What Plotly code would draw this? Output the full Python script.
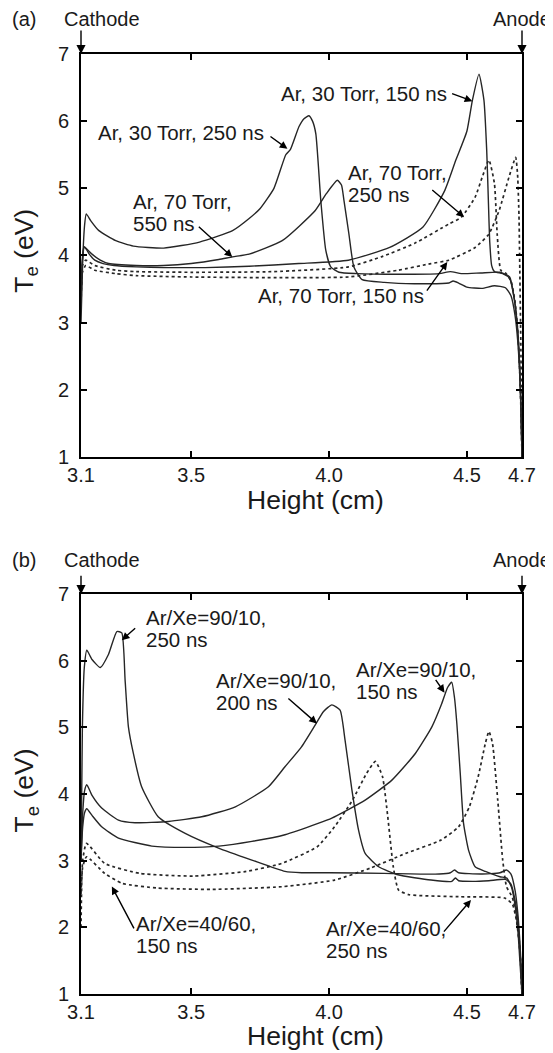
import plotly.graph_objects as go

# ---------------- Data: panel (a) ----------------
a_30_150_x = [3.100, 3.104, 3.110, 3.118, 3.130, 3.150, 3.180, 3.220, 3.300, 3.400, 3.550, 3.710, 3.890, 4.070, 4.220, 4.340, 4.420, 4.460, 4.500, 4.520, 4.544, 4.562, 4.572, 4.578, 4.583, 4.590, 4.600, 4.630, 4.655, 4.672, 4.684, 4.692, 4.697, 4.700]
a_30_150_y = [3.3, 3.9, 4.12, 4.10, 4.02, 3.93, 3.88, 3.85, 3.83, 3.82, 3.82, 3.84, 3.88, 3.93, 4.12, 4.42, 4.97, 5.42, 5.85, 6.31, 6.70, 6.31, 5.56, 4.82, 4.20, 3.85, 3.76, 3.73, 3.66, 3.35, 2.90, 2.30, 1.60, 1.00]

a_30_250_x = [3.100, 3.106, 3.113, 3.119, 3.135, 3.165, 3.226, 3.290, 3.400, 3.530, 3.650, 3.710, 3.750, 3.800, 3.843, 3.860, 3.891, 3.910, 3.927, 3.940, 3.952, 3.970, 3.988, 4.006, 4.036, 4.100, 4.250, 4.400, 4.440, 4.480, 4.550, 4.620, 4.655, 4.672, 4.684, 4.692, 4.697, 4.700]
a_30_250_y = [3.0, 3.9, 4.45, 4.62, 4.52, 4.37, 4.22, 4.14, 4.11, 4.20, 4.37, 4.55, 4.70, 5.00, 5.50, 5.58, 5.92, 6.04, 6.08, 6.00, 5.81, 4.82, 4.08, 3.83, 3.75, 3.73, 3.72, 3.73, 3.76, 3.73, 3.74, 3.75, 3.68, 3.36, 2.90, 2.30, 1.60, 1.00]

a_70_550_x = [3.100, 3.105, 3.112, 3.120, 3.140, 3.170, 3.200, 3.300, 3.400, 3.500, 3.600, 3.650, 3.710, 3.830, 3.950, 3.990, 4.030, 4.045, 4.054, 4.072, 4.090, 4.120, 4.200, 4.310, 4.435, 4.450, 4.470, 4.500, 4.555, 4.600, 4.640, 4.660, 4.675, 4.685, 4.692, 4.697, 4.700]
a_70_550_y = [3.3, 3.9, 4.13, 4.10, 4.02, 3.93, 3.88, 3.85, 3.85, 3.88, 3.94, 3.98, 4.02, 4.22, 4.67, 4.92, 5.12, 5.05, 4.82, 4.32, 3.83, 3.64, 3.60, 3.58, 3.59, 3.62, 3.59, 3.53, 3.51, 3.55, 3.52, 3.40, 3.10, 2.70, 2.20, 1.60, 1.00]

a_70_250_x = [3.100, 3.105, 3.117, 3.150, 3.226, 3.300, 3.500, 3.800, 4.070, 4.190, 4.310, 4.435, 4.480, 4.530, 4.556, 4.580, 4.600, 4.610, 4.623, 4.640, 4.660, 4.675, 4.685, 4.692, 4.697, 4.700]
a_70_250_y = [3.3, 3.85, 3.93, 3.85, 3.78, 3.76, 3.75, 3.76, 3.83, 3.98, 4.18, 4.47, 4.57, 4.87, 5.17, 5.42, 5.07, 4.32, 3.78, 3.74, 3.62, 3.30, 2.85, 2.25, 1.60, 1.00]

a_70_150_x = [3.100, 3.105, 3.117, 3.150, 3.226, 3.300, 3.500, 3.800, 4.070, 4.250, 4.370, 4.435, 4.530, 4.580, 4.617, 4.653, 4.677, 4.684, 4.689, 4.692, 4.696, 4.700]
a_70_150_y = [3.2, 3.75, 3.85, 3.78, 3.73, 3.70, 3.68, 3.67, 3.68, 3.78, 3.88, 3.93, 4.12, 4.32, 4.67, 5.17, 5.46, 5.20, 4.60, 3.80, 2.60, 1.00]

# ---------------- Data: panel (b) ----------------
b_90_250_x = [3.100, 3.105, 3.112, 3.121, 3.140, 3.170, 3.200, 3.230, 3.248, 3.260, 3.272, 3.290, 3.320, 3.380, 3.478, 3.599, 3.720, 3.840, 3.900, 4.000, 4.200, 4.400, 4.440, 4.455, 4.470, 4.550, 4.620, 4.645, 4.660, 4.675, 4.685, 4.692, 4.697, 4.700]
b_90_250_y = [3.0, 5.0, 5.9, 6.16, 6.02, 5.90, 6.10, 6.44, 6.42, 5.71, 5.01, 4.61, 4.11, 3.66, 3.41, 3.19, 3.01, 2.84, 2.82, 2.82, 2.81, 2.80, 2.82, 2.86, 2.82, 2.80, 2.82, 2.86, 2.80, 2.55, 2.20, 1.80, 1.40, 1.00]

b_90_200_x = [3.100, 3.106, 3.113, 3.121, 3.140, 3.175, 3.236, 3.296, 3.417, 3.538, 3.660, 3.780, 3.840, 3.900, 3.950, 3.980, 4.010, 4.040, 4.058, 4.083, 4.107, 4.131, 4.180, 4.250, 4.370, 4.445, 4.458, 4.470, 4.520, 4.580, 4.640, 4.660, 4.675, 4.685, 4.692, 4.697, 4.700]
b_90_200_y = [3.0, 3.7, 4.05, 4.14, 3.98, 3.79, 3.61, 3.57, 3.59, 3.66, 3.81, 4.11, 4.41, 4.71, 5.04, 5.24, 5.34, 5.26, 4.81, 4.06, 3.46, 3.11, 2.91, 2.79, 2.71, 2.69, 2.74, 2.70, 2.69, 2.70, 2.72, 2.65, 2.40, 2.10, 1.70, 1.35, 1.00]

b_90_150_x = [3.100, 3.106, 3.113, 3.121, 3.140, 3.175, 3.236, 3.357, 3.478, 3.600, 3.720, 3.840, 3.960, 4.010, 4.131, 4.228, 4.313, 4.373, 4.409, 4.430, 4.445, 4.455, 4.4636, 4.476, 4.488, 4.506, 4.530, 4.567, 4.620, 4.645, 4.662, 4.676, 4.686, 4.693, 4.700]
b_90_150_y = [3.0, 3.5, 3.72, 3.78, 3.68, 3.51, 3.34, 3.22, 3.20, 3.22, 3.29, 3.39, 3.56, 3.64, 3.91, 4.21, 4.61, 5.01, 5.36, 5.60, 5.68, 5.45, 5.06, 4.31, 3.56, 3.16, 2.91, 2.84, 2.76, 2.74, 2.60, 2.30, 1.90, 1.45, 1.00]

b_40_250_x = [3.100, 3.106, 3.120, 3.186, 3.314, 3.507, 3.700, 3.828, 3.957, 4.020, 4.085, 4.136, 4.168, 4.194, 4.213, 4.233, 4.252, 4.290, 4.470, 4.637, 4.665, 4.680, 4.690, 4.696, 4.700]
b_40_250_y = [2.0, 3.0, 3.26, 2.96, 2.81, 2.77, 2.84, 2.96, 3.21, 3.51, 3.91, 4.31, 4.49, 4.26, 3.66, 2.91, 2.56, 2.49, 2.46, 2.44, 2.35, 2.10, 1.75, 1.40, 1.00]

b_40_150_x = [3.100, 3.106, 3.120, 3.186, 3.250, 3.379, 3.571, 3.828, 4.020, 4.150, 4.278, 4.406, 4.470, 4.509, 4.541, 4.567, 4.580, 4.593, 4.612, 4.630, 4.644, 4.665, 4.680, 4.690, 4.696, 4.700]
b_40_150_y = [2.5, 2.9, 3.06, 2.81, 2.66, 2.59, 2.57, 2.61, 2.71, 2.89, 3.11, 3.31, 3.51, 3.81, 4.26, 4.76, 4.94, 4.76, 3.91, 3.01, 2.61, 2.45, 2.15, 1.80, 1.40, 1.00]

x_tickvals = [3.1, 3.5, 4.0, 4.5, 4.7]
x_ticktext = ["3.1", "3.5", "4.0", "4.5", "4.7"]
y_tickvals = [1, 2, 3, 4, 5, 6, 7]

FONT = "Liberation Sans, Arial, sans-serif"
LINE_C = "#262626"
TXT_C = "#1a1a1a"

fig = go.Figure()

def add_curve(xs, ys, dotted, xa, ya):
    fig.add_trace(go.Scatter(
        x=xs, y=ys, mode="lines", xaxis=xa, yaxis=ya,
        line=dict(color=LINE_C, width=1.7 if dotted else 1.4,
                  dash="dot" if dotted else "solid", shape="spline", smoothing=0.5),
        showlegend=False, hoverinfo="skip"))

add_curve(a_30_150_x, a_30_150_y, False, "x", "y")
add_curve(a_30_250_x, a_30_250_y, False, "x", "y")
add_curve(a_70_550_x, a_70_550_y, False, "x", "y")
add_curve(a_70_250_x, a_70_250_y, True, "x", "y")
add_curve(a_70_150_x, a_70_150_y, True, "x", "y")

add_curve(b_90_250_x, b_90_250_y, False, "x2", "y2")
add_curve(b_90_200_x, b_90_200_y, False, "x2", "y2")
add_curve(b_90_150_x, b_90_150_y, False, "x2", "y2")
add_curve(b_40_250_x, b_40_250_y, True, "x2", "y2")
add_curve(b_40_150_x, b_40_150_y, True, "x2", "y2")

axis_common = dict(showline=True, linewidth=2, linecolor="black", mirror="ticks",
                   ticks="inside", ticklen=6, tickwidth=1.5, tickcolor="black",
                   showgrid=False, zeroline=False,
                   tickfont=dict(family=FONT, size=20, color=TXT_C))

# the page adds an 8 px body margin, so the figure is 8 px smaller
fig.update_layout(
    width=545, height=1045,
    margin=dict(l=73, r=31, t=45.5, b=59),
    paper_bgcolor="white", plot_bgcolor="white",
    font=dict(family=FONT, color=TXT_C),
    xaxis=dict(domain=[0, 1], anchor="y", range=[3.1, 4.7], tickvals=x_tickvals,
               ticktext=x_ticktext, ticklabelstandoff=-1, **axis_common),
    yaxis=dict(domain=[0.5713, 1.0], anchor="x", range=[1, 7], tickvals=y_tickvals,
               ticklabelstandoff=6, **axis_common),
    xaxis2=dict(domain=[0, 1], anchor="y2", range=[3.1, 4.7], tickvals=x_tickvals,
                ticktext=x_ticktext, ticklabelstandoff=-1, **axis_common),
    yaxis2=dict(domain=[0.0, 0.4253], anchor="x2", range=[1, 7], tickvals=y_tickvals,
                ticklabelstandoff=6, **axis_common),
)

ann = []
TF = dict(family=FONT, size=20.5, color=TXT_C)

def label(lines, x, y, xr, yr, dy, xanchor="left"):
    n = len(lines)
    for i, t in enumerate(lines):
        yy = y + dy * ((n - 1) / 2 - i)
        ann.append(dict(text=t, x=x, y=yy, xref=xr, yref=yr, showarrow=False,
                        xanchor=xanchor, yanchor="middle", align="left", font=TF))

def arrow(hx, hy, tx, ty, xr, yr):
    ann.append(dict(text="", x=hx, y=hy, ax=tx, ay=ty, xref=xr, yref=yr,
                    axref=xr, ayref=yr, showarrow=True, arrowhead=2, arrowsize=1.1,
                    arrowwidth=1.4, arrowcolor="black", standoff=0, startstandoff=0))

DA = 0.328   # 22 px line spacing in panel (a) data units
DB = 0.330   # 22 px line spacing in panel (b) data units

# panel (a) labels
label(["Ar, 30 Torr, 250 ns"], 3.153, 5.836, "x", "y", DA)
arrow(3.849, 5.589, 3.782, 5.787, "x", "y")
label(["Ar, 70 Torr,", "550 ns"], 3.280, 4.634, "x", "y", DA)
arrow(3.649, 3.976, 3.522, 4.448, "x", "y")
label(["Ar, 70 Torr,", "250 ns"], 4.060, 5.068, "x", "y", DA)
arrow(4.490, 4.571, 4.369, 4.994, "x", "y")
label(["Ar, 70 Torr, 150 ns"], 3.734, 3.406, "x", "y", DA)
arrow(4.429, 3.902, 4.351, 3.455, "x", "y")
label(["Ar, 30 Torr, 150 ns"], 4.435, 6.408, "x", "y", DA, xanchor="right")
arrow(4.520, 6.298, 4.441, 6.417, "x", "y")

# panel (b) labels
label(["Ar/Xe=90/10,", "250 ns"], 3.330, 6.486, "x2", "y2", DB)
arrow(3.248, 6.310, 3.302, 6.510, "x2", "y2")
label(["Ar/Xe=90/10,", "200 ns"], 3.581, 5.535, "x2", "y2", DB)
arrow(3.956, 5.061, 3.847, 5.456, "x2", "y2")
label(["Ar/Xe=90/10,", "150 ns"], 4.092, 5.699, "x2", "y2", DB)
arrow(4.419, 5.523, 4.383, 5.736, "x2", "y2")
label(["Ar/Xe=40/60,", "150 ns"], 3.294, 1.888, "x2", "y2", DB)
arrow(3.212, 2.612, 3.295, 1.963, "x2", "y2")
label(["Ar/Xe=40/60,", "250 ns"], 3.982, 1.825, "x2", "y2", DB)
arrow(4.515, 2.412, 4.412, 1.913, "x2", "y2")

# panel headers, electrodes and axis titles
BIG = dict(family=FONT, size=20, color=TXT_C)
TITLE = dict(family=FONT, size=26.5, color=TXT_C)
panels = [("(a)", 1.0372, 1.0, 25, 0.5253, 0.791),
          ("(b)", 0.4622, 0.4253, 20, -0.0447, 0.2169)]
for (ptag, ytxt, ytop, alen, yxt, ytitle_y) in panels:
    ann.append(dict(text=ptag, x=-0.1610, y=ytxt, xref="paper", yref="paper",
                    showarrow=False, xanchor="left", yanchor="middle", font=BIG))
    ann.append(dict(text="Cathode", x=0.0476, y=ytxt, xref="paper", yref="paper",
                    showarrow=False, xanchor="center", yanchor="middle", font=BIG))
    ann.append(dict(text="Anode", x=1.0, y=ytxt, xref="paper", yref="paper",
                    showarrow=False, xanchor="center", yanchor="middle", font=BIG))
    for xe in (0.0, 1.0):
        ann.append(dict(text="", x=xe, y=ytop, xref="paper", yref="paper",
                        ax=0, ay=-alen, showarrow=True, arrowhead=2, arrowsize=1.3,
                        arrowwidth=1.4, arrowcolor="black", standoff=0))
    ann.append(dict(text="Height (cm)", x=0.531, y=yxt, xref="paper", yref="paper",
                    showarrow=False, xanchor="center", yanchor="middle", font=TITLE))
    ann.append(dict(text="T<sub>e</sub> (eV)", x=-0.124, y=ytitle_y, xref="paper",
                    yref="paper", showarrow=False, xanchor="center", yanchor="middle",
                    textangle=-90, font=TITLE))

fig.update_layout(annotations=ann)
fig.write_html("out.html")
